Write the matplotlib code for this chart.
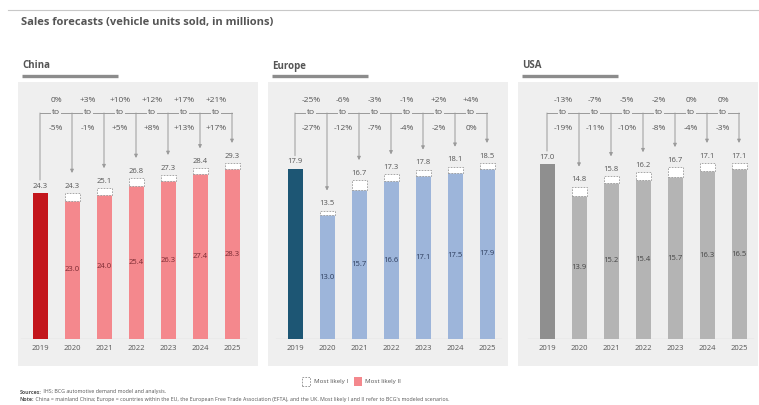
import matplotlib
matplotlib.use("Agg")
import matplotlib.pyplot as plt
from matplotlib.patches import Rectangle
from matplotlib.lines import Line2D

plt.rcParams['font.family'] = ['Open Sans', 'DejaVu Sans']

W, H = 759, 405

years = ['2019', '2020', '2021', '2022', '2023', '2024', '2025']

china_likely1 = [24.3, 24.3, 25.1, 26.8, 27.3, 28.4, 29.3]
china_likely2 = [24.3, 23.0, 24.0, 25.4, 26.3, 27.4, 28.3]
china_hi = ['0%', '+3%', '+10%', '+12%', '+17%', '+21%']
china_lo = ['-5%', '-1%', '+5%', '+8%', '+13%', '+17%']

europe_likely1 = [17.9, 13.5, 16.7, 17.3, 17.8, 18.1, 18.5]
europe_likely2 = [17.9, 13.0, 15.7, 16.6, 17.1, 17.5, 17.9]
europe_hi = ['-25%', '-6%', '-3%', '-1%', '+2%', '+4%']
europe_lo = ['-27%', '-12%', '-7%', '-4%', '-2%', '0%']

usa_likely1 = [17.0, 14.8, 15.8, 16.2, 16.7, 17.1, 17.1]
usa_likely2 = [17.0, 13.9, 15.2, 15.4, 15.7, 16.3, 16.5]
usa_hi = ['-13%', '-7%', '-5%', '-2%', '0%', '0%']
usa_lo = ['-19%', '-11%', '-10%', '-8%', '-4%', '-3%']

TXT = '#555555'
PANEL_BG = '#efefef'
LINE = '#9a9a9a'

panels = [
    ('China', china_likely1, china_likely2, china_hi, china_lo,
     '#c3161c', '#f4888d', '#7a2a32', 16, 18),
    ('Europe', europe_likely1, europe_likely2, europe_hi, europe_lo,
     '#1d5674', '#9db5da', '#2c3c5c', 271, 268),
    ('USA', usa_likely1, usa_likely2, usa_hi, usa_lo,
     '#8f8f8f', '#b4b4b4', '#444444', 523, 518),
]


def fx(x):
    return x / W


def fy(y):
    return 1 - y / H


fig = plt.figure(figsize=(W / 100, H / 100), dpi=100)
fig.patch.set_facecolor('white')

# thin rule at the top and the title
fig.add_artist(Line2D([fx(8), fx(759)], [fy(10), fy(10)], color='#c8c8c8', lw=0.8))
fig.text(fx(21), fy(22), 'Sales forecasts (vehicle units sold, in millions)',
         fontsize=8, color=TXT, fontweight='bold', va='center', ha='left')

base_y, top_y = 339, 82
ax_h = base_y - top_y
spacing = 32
xmin, xmax = -0.75, 6.6
row_hi = (base_y - 101) / ax_h
row_to = (base_y - 113) / ax_h
row_lo = (base_y - 128) / ax_h

for name, v1, v2, hi, lo, c_first, c_bar, c_in, left, bg_left in panels:
    # panel background and heading
    fig.patches.append(Rectangle((fx(bg_left), fy(366)), 240 / W, (366 - 82) / H,
                                 transform=fig.transFigure, facecolor=PANEL_BG,
                                 edgecolor='none', zorder=-1))
    fig.text(fx(bg_left + 4), fy(66), name, fontsize=7, fontweight='bold',
             color=TXT, va='center', ha='left')
    fig.add_artist(Line2D([fx(bg_left + 4), fx(bg_left + 100)], [fy(76), fy(76)],
                          color='#8c8c8c', lw=2.4, solid_capstyle='butt'))

    ax_w = (xmax - xmin) * spacing
    ax = fig.add_axes([fx(left), fy(base_y), ax_w / W, ax_h / H])
    ax.patch.set_visible(False)
    for s in ax.spines.values():
        s.set_visible(False)
    ymax = max(v1) * ax_h / 176
    ppu = ax_h / ymax
    ax.set_xlim(xmin, xmax)
    ax.set_ylim(0, ymax)
    ax.set_yticks([])
    ax.set_xticks(range(len(years)))
    ax.set_xticklabels(years, fontsize=5.5, color=TXT)
    ax.tick_params(axis='x', length=0, pad=4)
    ax.axhline(0, xmin=0.02, xmax=0.98, color='#a0a0a0', lw=0.8)

    xs = range(len(years))
    bw = 15 / spacing
    # 2019 actuals
    ax.bar(0, v1[0], width=bw, color=c_first, zorder=2)
    # Most likely II (filled) and Most likely I (dashed outline on top)
    ax.bar(xs[1:], v2[1:], width=bw, color=c_bar, zorder=2)
    ax.bar(xs[1:], [a - b for a, b in zip(v1[1:], v2[1:])], bottom=v2[1:],
           width=bw, facecolor='white', edgecolor='#9a9a9a', lw=0.6,
           linestyle=(0, (2, 1.5)), zorder=2)

    for i in xs:
        ax.annotate(f'{v1[i]:.1f}', xy=(i, v1[i]), xytext=(0, 5),
                    textcoords='offset points', ha='center', va='center',
                    fontsize=5.5, color=TXT)
        if i > 0:
            ax.text(i, v2[i] / 2, f'{v2[i]:.1f}', ha='center', va='center',
                    fontsize=5.5, color=c_in, zorder=3)

    # bracket from 2019 to each forecast year
    tr = ax.get_xaxis_transform()
    ax.plot([0, 6], [row_to, row_to], transform=tr, color=LINE, lw=0.7,
            clip_on=False, zorder=1)
    ax.annotate('', xy=(0, v1[0] + 13 / ppu), xytext=(0, row_to),
                xycoords='data', textcoords=('data', 'axes fraction'),
                arrowprops=dict(arrowstyle='-', color=LINE, lw=0.7,
                                shrinkA=0, shrinkB=0))
    for i in xs[1:]:
        ax.annotate('', xy=(i, v1[i] + 20 / ppu), xytext=(i, row_to),
                    xycoords='data', textcoords=('data', 'axes fraction'),
                    arrowprops=dict(arrowstyle='-|>', color=LINE, lw=0.7,
                                    mutation_scale=5, shrinkA=0, shrinkB=0))
        xm = i - 0.5
        ax.text(xm, row_hi, hi[i - 1], transform=tr, ha='center', va='center',
                fontsize=6, color=TXT)
        ax.text(xm, row_to, 'to', transform=tr, ha='center', va='center',
                fontsize=6, color=TXT,
                bbox=dict(facecolor=PANEL_BG, edgecolor='none', pad=0.6))
        ax.text(xm, row_lo, lo[i - 1], transform=tr, ha='center', va='center',
                fontsize=6, color=TXT)

# legend
renderer = fig.canvas.get_renderer()
fig.patches.append(Rectangle((fx(302), fy(386)), 8 / W, 9 / H, transform=fig.transFigure,
                             facecolor='white', edgecolor='#8a8a8a', lw=0.6,
                             linestyle=(0, (2, 1.5))))
t1 = fig.text(fx(314), fy(381.5), 'Most likely I', fontsize=4.5, color=TXT, va='center')
x_end = t1.get_window_extent(renderer).x1
fig.patches.append(Rectangle((fx(x_end + 6), fy(386)), 8 / W, 9 / H,
                             transform=fig.transFigure, facecolor='#f4888d',
                             edgecolor='none'))
fig.text(fx(x_end + 17), fy(381.5), 'Most likely II', fontsize=4.5, color=TXT,
         va='center')

# footnotes
notes = [
    ('Sources:', ' IHS; BCG automotive demand model and analysis.', 393.5),
    ('Note:', ' China = mainland China; Europe = countries within the EU, the European '
              'Free Trade Association (EFTA), and the UK. Most likely I and II refer to '
              "BCG's modeled scenarios.", 401),
]
for head, body, y in notes:
    t = fig.text(fx(20), fy(y), head, fontsize=3.8, fontweight='bold', color=TXT,
                 va='baseline')
    bb = t.get_window_extent(renderer)
    fig.text(fx(bb.x1), fy(y), body, fontsize=3.8, color=TXT, va='baseline')

fig.savefig('out.png', dpi=100)
